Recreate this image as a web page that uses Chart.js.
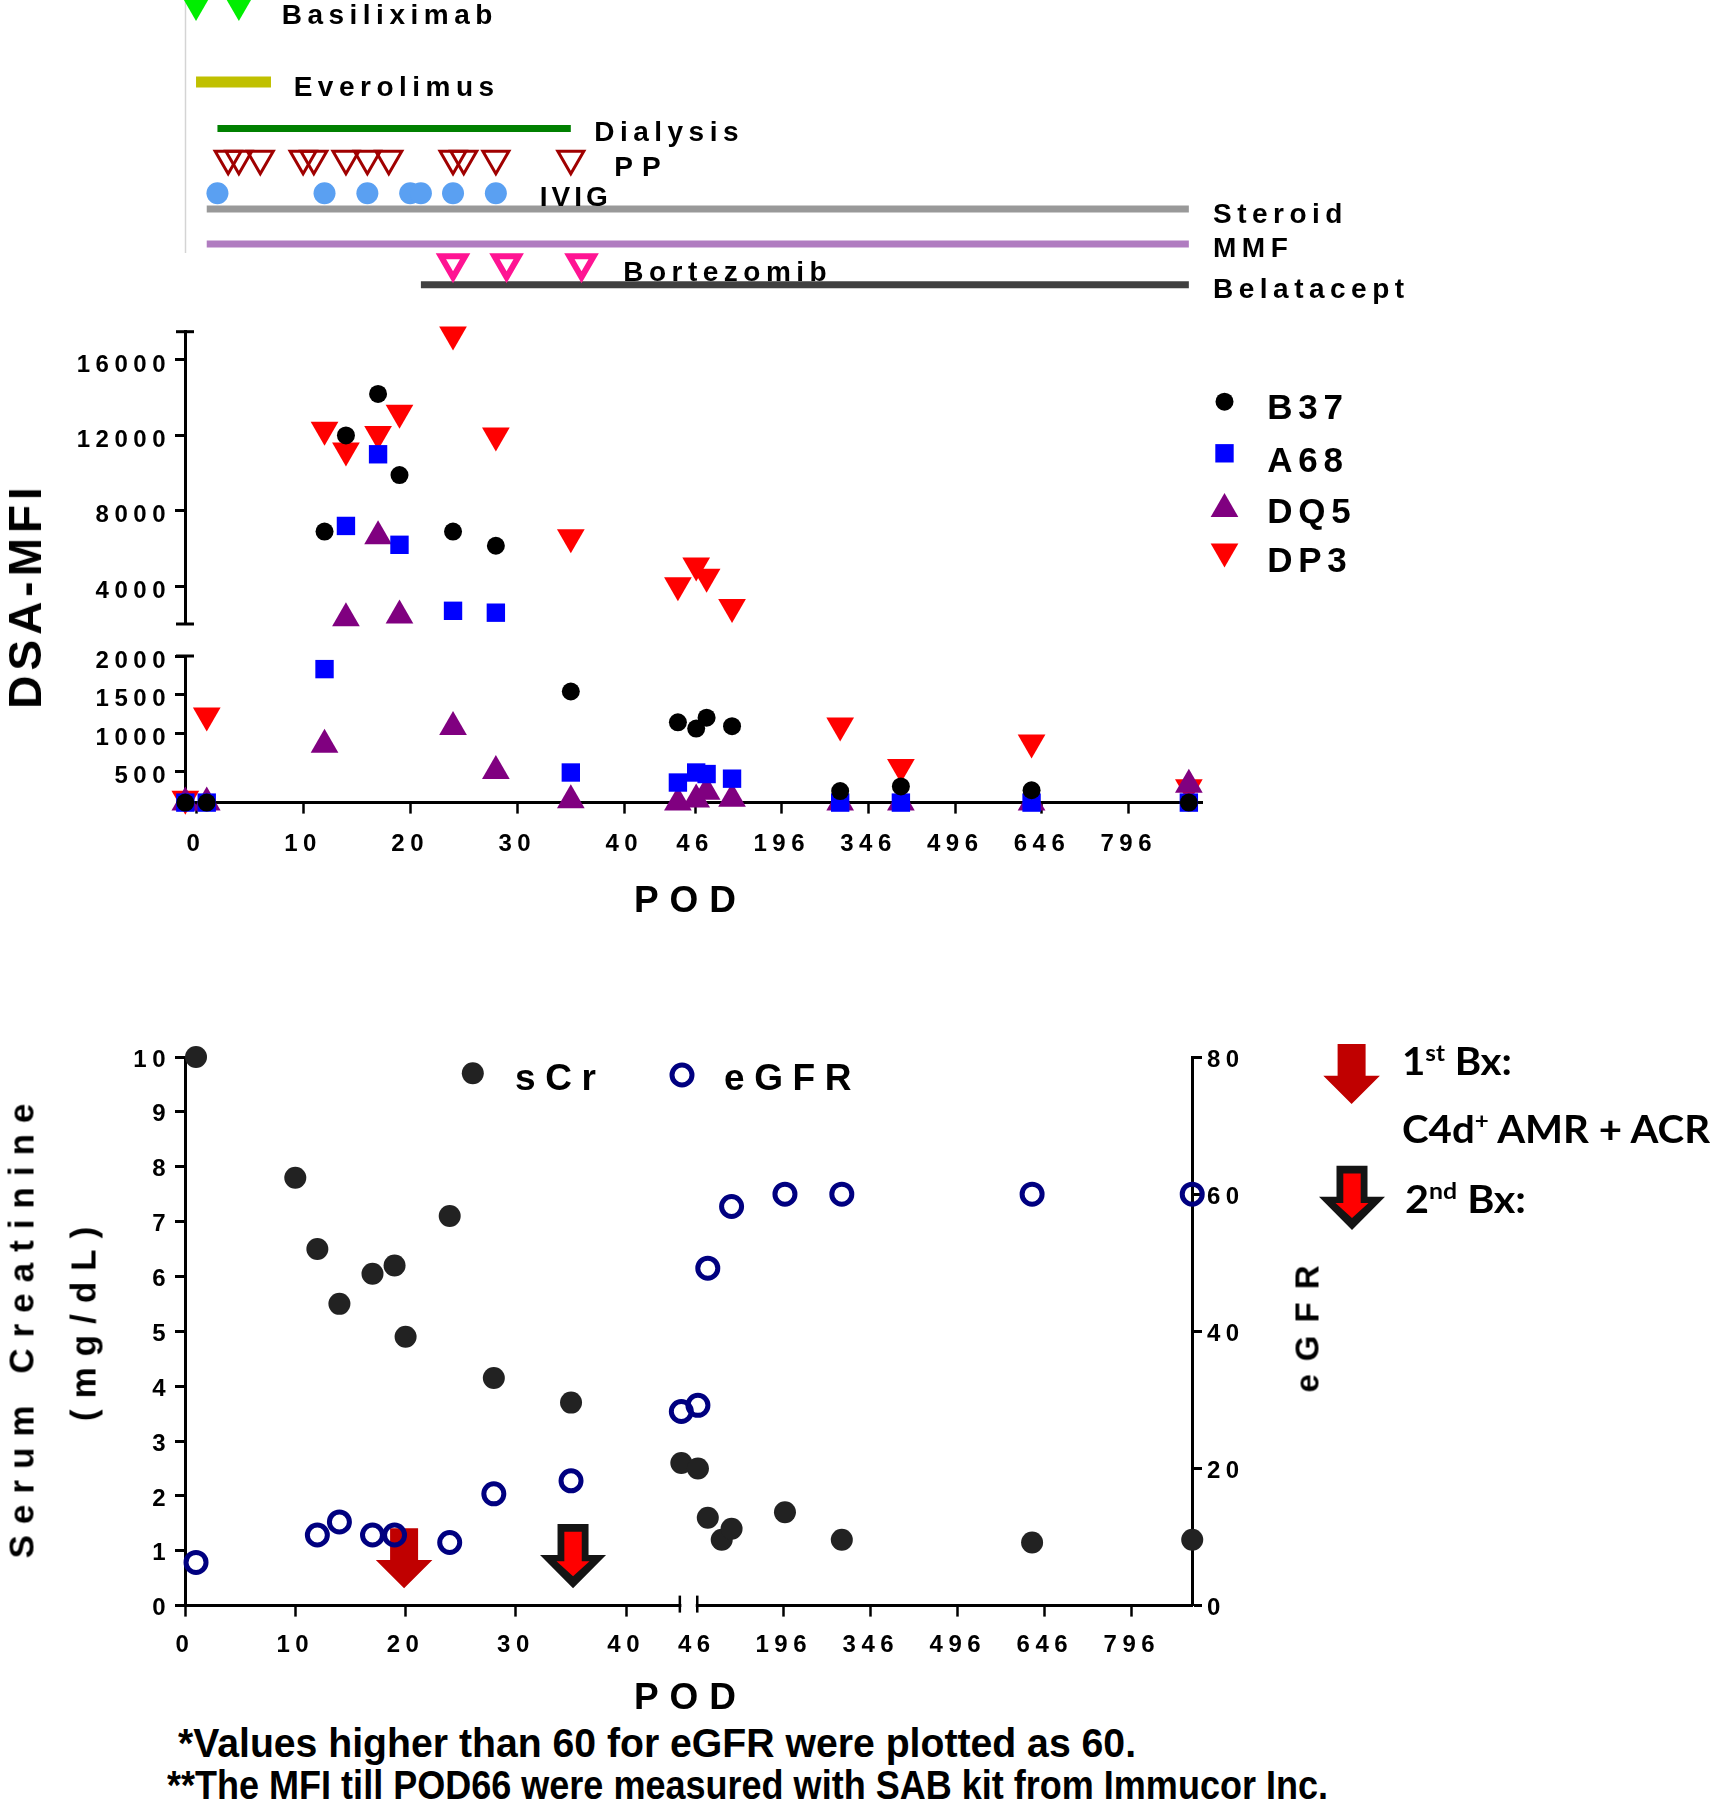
<!DOCTYPE html>
<html>
<head>
<meta charset="utf-8">
<title>DSA-MFI and renal function by POD</title>
<script src="https://cdn.jsdelivr.net/npm/chart.js@4.4.1/dist/chart.umd.min.js"></script>
<style>
  body { margin: 0; background: #fff; }
  #fig { position: relative; width: 1710px; height: 1800px; overflow: hidden; background: #fff; }
  #fig canvas { position: absolute; left: 0; }
  .t { position: absolute; white-space: nowrap; line-height: 1; font-weight: bold; color: #000;
       font-family: "Liberation Sans", Arial, sans-serif; }
  .t sup { font-size: 0.6em; vertical-align: 0.62em; line-height: 0; letter-spacing: 0; }
</style>
</head>
<body>
<div id="fig">
  <canvas id="timeline" width="1710" height="300" style="top:0px"></canvas>
  <canvas id="dsaHigh" width="1710" height="340" style="top:300px"></canvas>
  <canvas id="dsaLow" width="1710" height="260" style="top:640px"></canvas>
  <canvas id="renal" width="1710" height="700" style="top:1000px"></canvas>
</div>
<script>
const FONT = '"Liberation Sans", Arial, sans-serif';

// POD ticks shared by both x axes
const podTicks = [0, 10, 20, 30, 40, 46, 196, 346, 496, 646, 796];

// treatments (POD)
const basiliximab = [0, 4];
const everolimus = [0, 7];
const dialysis = [2, 35];
const plasmapheresis = [3, 4, 6, 10, 11, 14, 16, 18, 24, 25, 28, 35];
const ivig = [2, 12, 16, 20, 21, 24, 28];
const steroid = [1, 900];
const mmf = [1, 900];
const bortezomib = [24, 29, 36];
const belatacept = [21, 900];

// DSA MFI per antibody
const dsaDays = [-1, 1, 12, 14, 17, 19, 24, 28, 35, 45, 48, 66, 110, 297, 402, 628, 900];
const b37 = [100, 100, 6900, 12000, 14200, 9900, 6900, 6150, 1540, 1140, 1060, 1200, 1090, 250, 310, 260, 100];
const a68 = [100, 100, 1830, 7200, 11000, 6200, 2700, 2600, 490, 360, 490, 470, 410, 100, 100, 100, 100];
const dq5 = [100, 100, 850, 2300, 6650, 2450, 1080, 510, 130, 100, 140, 240, 150, 100, 100, 100, 330];
const dp3 = [150, 1230, 12300, 11200, 12070, 13200, 17350, 12000, 6600, 4050, 5100, 4500, 2900, 1100, 560, 880, 300];
const mfiTicksHigh = [4000, 8000, 12000, 16000];
const mfiTicksLow = [500, 1000, 1500, 2000];

// renal function
const scrDays = [1, 10, 12, 14, 17, 19, 20, 24, 28, 35, 45, 48, 65, 89, 106, 198, 296, 624, 900];
const scr = [10.0, 7.8, 6.5, 5.5, 6.05, 6.2, 4.9, 7.1, 4.15, 3.7, 2.6, 2.5, 1.6, 1.2, 1.4, 1.7, 1.2, 1.15, 1.2];
const egfrDays = [1, 12, 14, 17, 19, 24, 28, 35, 45, 48, 65, 106, 198, 296, 624, 900];
const egfr = [6.3, 10.3, 12.2, 10.3, 10.3, 9.2, 16.3, 18.2, 28.3, 29.2, 49.2, 58.2, 60, 60, 60, 60];
const biopsyDays = [20, 35];

// broken POD axis: linear up to 46, compressed after
const topU = d => d < 46 ? d : 46.6 + (d - 46) * 0.054;
const botU = d => d < 46 ? d : 46.4 + (d - 46) * 0.0526;

const common = {
  responsive: false, animation: false, events: [], devicePixelRatio: 1,
  plugins: { legend: { display: false }, tooltip: { enabled: false } }
};
const pad = (left, right, top, bottom) => ({ autoPadding: false, padding: { left, right, top, bottom } });

const spacing = px => ({ id: 'spacing', beforeDraw: c => { c.ctx.letterSpacing = px + 'px'; } });

function drawMarker(ctx, st, x, y) {
  ctx.save();
  ctx.beginPath();
  const r = st.r;
  if (st.shape === 'circle') ctx.arc(x, y, r, 0, Math.PI * 2);
  else if (st.shape === 'rect') { const s = r * Math.SQRT1_2; ctx.rect(x - s, y - s, 2 * s, 2 * s); }
  else {
    let a = (st.rot || 0) * Math.PI / 180;
    for (let k = 0; k < 3; k++) { ctx.lineTo(x + Math.sin(a) * r, y - Math.cos(a) * r); a += Math.PI * 2 / 3; }
    ctx.closePath();
  }
  ctx.fillStyle = st.fill || st.color;
  ctx.fill();
  if (st.bw) { ctx.lineWidth = st.bw; ctx.strokeStyle = st.stroke; ctx.stroke(); }
  ctx.restore();
}

// y tick labels sit a few px under their tick in the original: an empty first line pushes them down
function yTicks(shift, padding, stepSize) {
  return { color: '#000', font: { family: FONT, size: 24, weight: 'bold', lineHeight: (2 * shift) + 'px' },
           padding: padding, stepSize: stepSize, callback: v => ['', String(v)] };
}

function yAxis(extra) {
  return Object.assign({
    type: 'linear',
    border: { display: true, color: '#000', width: 3 },
    grid: { drawOnChartArea: false, drawTicks: true, tickLength: 10, tickWidth: 3, tickColor: '#000' },
    ticks: yTicks(5, 4),
    afterFit: s => { s.width = 185; }
  }, extra);
}

function podAxis(toU, min, max, padding, height, hideIdx) {
  return {
    type: 'linear', min: min, max: max,
    border: { color: '#000', width: 3 },
    grid: { drawOnChartArea: false, drawTicks: true, tickLength: 11, tickWidth: 2.5,
            tickColor: c => c.index === hideIdx ? 'rgba(0,0,0,0)' : '#000' },
    ticks: { color: '#000', font: { family: FONT, size: 24, weight: 'bold' }, padding: padding,
             autoSkip: false, maxRotation: 0, callback: (v, i) => String(podTicks[i]) },
    afterBuildTicks: s => { s.ticks = podTicks.map(d => ({ value: toU(d) })); },
    afterFit: s => { s.height = height; }
  };
}

// ---------- treatment timeline ----------
const rowY = { Basiliximab: 5, Everolimus: 82, Dialysis: 128.5, PP: 158.7, IVIG: 193.3,
               Steroid: 209, MMF: 244, Bortezomib: 263.3, Belatacept: 284.7 };
const atRow = (days, row) => days.map(d => ({ x: topU(d), y: rowY[row] }));
const bar = (days, row, color, width) => ({ data: atRow(days, row), showLine: true, borderColor: color,
  borderWidth: width, borderCapStyle: 'butt', pointRadius: 0, clip: false });
const marks = (days, row, st) => ({ data: atRow(days, row), pointStyle: st.shape, pointRadius: st.r,
  pointRotation: st.rot || 0, pointBackgroundColor: st.fill, pointBorderColor: st.stroke || st.fill,
  pointBorderWidth: st.bw || 0, clip: false });

new Chart(document.getElementById('timeline'), {
  type: 'scatter',
  data: { datasets: [
    marks(basiliximab, 'Basiliximab', { shape: 'triangle', r: 16, rot: 180, fill: '#00ee00' }),
    marks(plasmapheresis, 'PP', { shape: 'triangle', r: 15, rot: 180, fill: 'rgba(0,0,0,0)', stroke: '#a00000', bw: 3 }),
    marks(ivig, 'IVIG', { shape: 'circle', r: 11, fill: '#5aa0f2' }),
    marks(bortezomib, 'Bortezomib', { shape: 'triangle', r: 14, rot: 180, fill: '#ffffff', stroke: '#ff1493', bw: 6 }),
    bar(everolimus, 'Everolimus', '#c0c000', 11),
    bar(dialysis, 'Dialysis', '#008000', 7),
    bar(steroid, 'Steroid', '#999999', 7),
    bar(mmf, 'MMF', '#b07cc0', 7),
    bar(belatacept, 'Belatacept', '#404040', 7)
  ] },
  options: Object.assign({}, common, {
    layout: pad(185, 507.4, 0, 0),
    scales: {
      x: { type: 'linear', display: false, min: -1.03, max: 94 },
      y: { type: 'linear', display: false, reverse: true, min: 0, max: 300 }
    }
  }),
  plugins: [{ id: 'startLine', beforeDatasetsDraw(c) {
    const ctx = c.ctx, x = c.chartArea.left + 0.5;
    ctx.save(); ctx.strokeStyle = '#d4d4d4'; ctx.lineWidth = 1.5;
    ctx.beginPath(); ctx.moveTo(x, 0); ctx.lineTo(x, 253); ctx.stroke(); ctx.restore();
  } }]
});

// ---------- DSA MFI (two y segments) ----------
const dsaSeries = [
  { name: 'B37', values: b37, shape: 'circle', r: 9, color: '#000000' },
  { name: 'A68', values: a68, shape: 'rect', r: 13, color: '#0000ff' },
  { name: 'DQ5', values: dq5, shape: 'triangle', r: 16, color: '#800080' },
  { name: 'DP3', values: dp3, shape: 'triangle', r: 16, rot: 180, color: '#ff0000' }
];
function dsaSet(s, high) {
  const pts = [];
  dsaDays.forEach((d, i) => { if ((s.values[i] > 2000) === high) pts.push({ x: topU(d), y: s.values[i] }); });
  return { label: s.name, data: pts, pointStyle: s.shape, pointRadius: s.r, pointRotation: s.rot || 0,
           pointBackgroundColor: s.color, pointBorderWidth: 0, clip: false };
}
const capPlugin = { id: 'caps', afterDraw(c, args, opts) {
  const ctx = c.ctx, x = c.chartArea.left, ys = c.scales.y;
  ctx.save(); ctx.strokeStyle = '#000'; ctx.lineWidth = 3;
  (opts.values || []).forEach(v => {
    const y = ys.getPixelForValue(v);
    ctx.beginPath(); ctx.moveTo(x - 9, y); ctx.lineTo(x + 9, y); ctx.stroke();
  });
  ctx.restore();
} };
const dsaLegendY = [401.7, 453.3, 509, 551.6];

new Chart(document.getElementById('dsaHigh'), {
  type: 'scatter',
  data: { datasets: dsaSeries.map(s => dsaSet(s, true)) },
  options: Object.assign({}, common, {
    layout: pad(0, 507.4, 31.7, 16),
    plugins: Object.assign({}, common.plugins, { caps: { values: [2000, 17500] } }),
    scales: {
      x: { type: 'linear', display: false, min: -1.03, max: 94 },
      y: yAxis({ min: 2000, max: 17500, afterBuildTicks: s => { s.ticks = mfiTicksHigh.map(v => ({ value: v })); } })
    }
  }),
  plugins: [spacing(5.5), capPlugin, { id: 'dsaLegend', afterDraw(c) {
    dsaSeries.forEach((s, i) => drawMarker(c.ctx, s, 1224.5, dsaLegendY[i] - 300));
  } }]
});

new Chart(document.getElementById('dsaLow'), {
  type: 'scatter',
  data: { datasets: dsaSeries.map(s => dsaSet(s, false)) },
  options: Object.assign({}, common, {
    layout: pad(0, 507.4, 16, 0),
    plugins: Object.assign({}, common.plugins, { caps: { values: [2000] } }),
    scales: {
      x: podAxis(topU, -1.03, 94, 16.5, 97.4, -1),
      y: yAxis({ min: 100, max: 2000, afterBuildTicks: s => { s.ticks = mfiTicksLow.map(v => ({ value: v })); } })
    }
  }),
  plugins: [spacing(5.5), capPlugin]
});

// ---------- serum creatinine / eGFR ----------
function arrow(ctx, cx, tip, hw, headW, h, headH, color) {
  ctx.beginPath();
  ctx.moveTo(cx - hw, tip - h); ctx.lineTo(cx + hw, tip - h); ctx.lineTo(cx + hw, tip - headH);
  ctx.lineTo(cx + headW, tip - headH); ctx.lineTo(cx, tip); ctx.lineTo(cx - headW, tip - headH);
  ctx.lineTo(cx - hw, tip - headH); ctx.closePath();
  ctx.fillStyle = color; ctx.fill();
}
function firstBx(ctx, cx, tip) { arrow(ctx, cx, tip, 14, 28.3, 60, 28.3, '#c00000'); }
function secondBx(ctx, cx, tip) {
  arrow(ctx, cx, tip, 15.5, 33, 64.3, 33.3, '#141414');
  arrow(ctx, cx, tip - 12, 8.7, 16.5, 44.5, 15, '#ff0000');
}
const scrStyle = { shape: 'circle', r: 11, color: '#222222' };
const egfrStyle = { shape: 'circle', r: 10, fill: 'rgba(0,0,0,0)', stroke: '#000080', bw: 5 };

new Chart(document.getElementById('renal'), {
  type: 'scatter',
  data: { datasets: [
    { label: 'eGFR', yAxisID: 'yR', data: egfrDays.map((d, i) => ({ x: botU(d), y: egfr[i] })),
      pointStyle: 'circle', pointRadius: egfrStyle.r, pointBackgroundColor: egfrStyle.fill,
      pointBorderColor: egfrStyle.stroke, pointBorderWidth: egfrStyle.bw, clip: false },
    { label: 'sCr', yAxisID: 'y', data: scrDays.map((d, i) => ({ x: botU(d), y: scr[i] })),
      pointStyle: 'circle', pointRadius: scrStyle.r, pointBackgroundColor: scrStyle.color,
      pointBorderWidth: 0, clip: false }
  ] },
  options: Object.assign({}, common, {
    layout: pad(0, 418, 57, 0),
    scales: {
      x: podAxis(botU, 0, 91.3, 14, 94.4, 5),
      y: yAxis({ min: 0, max: 10, ticks: yTicks(3, 4, 1) }),
      yR: yAxis({ position: 'right', min: 0, max: 80, ticks: yTicks(3, 5, 20),
                  afterFit: s => { s.width = 100; } })
    }
  }),
  plugins: [spacing(5.5), {
    id: 'renalMarks',
    beforeDatasetsDraw(c) {
      const ctx = c.ctx, xs = c.scales.x, tip = c.chartArea.bottom - 17.3;
      ctx.save();
      firstBx(ctx, xs.getPixelForValue(botU(biopsyDays[0])) - 1.5, tip);
      secondBx(ctx, xs.getPixelForValue(botU(biopsyDays[1])) + 2, tip);
      // legend arrows
      firstBx(ctx, 1351.6, 104);
      secondBx(ctx, 1352, 230);
      ctx.restore();
    },
    afterDraw(c) {
      const ctx = c.ctx, xs = c.scales.x, y0 = c.chartArea.bottom;
      const xa = xs.getPixelForValue(botU(45)) - 1.5, xb = xs.getPixelForValue(botU(46)) + 0.5;
      ctx.save();
      ctx.fillStyle = '#fff'; ctx.fillRect(xa + 1.5, y0 - 3, xb - xa - 3, 7);
      ctx.strokeStyle = '#000'; ctx.lineWidth = 2.5;
      [xa, xb].forEach(x => { ctx.beginPath(); ctx.moveTo(x, y0 - 10); ctx.lineTo(x, y0 + 7); ctx.stroke(); });
      ctx.restore();
      drawMarker(ctx, scrStyle, 472.8, 73.3);
      drawMarker(ctx, egfrStyle, 682, 75);
    }
  }]
});

// ---------- text ----------
const fig = document.getElementById('fig');
function text(html, x, y, o) {
  const el = document.createElement('div');
  el.className = 't';
  el.innerHTML = html;
  el.style.fontSize = o.size + 'px';
  if (o.family) el.style.fontFamily = o.family;
  if (o.sp) el.style.letterSpacing = o.sp + 'px';
  fig.appendChild(el);
  el.style.left = x + 'px';
  if (o.rot || o.center) {
    if (o.sp) el.style.paddingLeft = o.sp + 'px';
    el.style.top = y + 'px';
    el.style.transform = 'translate(-50%, -50%)' + (o.rot ? ' rotate(-90deg)' : '');
  } else if (o.base) {
    el.style.top = (y - o.base * o.size) + 'px';
  } else {
    el.style.top = (y - 0.49 * o.size) + 'px';
  }
  if (o.width) {
    const w = el.getBoundingClientRect().width;
    el.style.transformOrigin = '0 0';
    el.style.transform = 'scaleX(' + (o.width / w).toFixed(4) + ')';
  }
  return el;
}

// timeline labels
const tl = { size: 28, sp: 5.5 };
text('Basiliximab', 281.7, 15, tl);
text('Everolimus', 293.7, 86.7, tl);
text('Dialysis', 594.2, 131.7, tl);
text('PP', 614.3, 166.7, { size: 28, sp: 9 });
text('IVIG', 539.7, 196.7, { size: 28, sp: 4 });
text('Steroid', 1213, 213.5, tl);
text('MMF', 1213, 248, tl);
text('Bortezomib', 623.2, 272, tl);
text('Belatacept', 1213, 289, tl);

// DSA chart
text('DSA-MFI', 25, 598, { size: 46, sp: 5, rot: true });
text('POD', 685, 898.6, { size: 37, sp: 11, center: true });
const legendTextY = [405.8, 459, 510, 559.5];
dsaSeries.forEach((s, i) => text(s.name, 1267.3, legendTextY[i], { size: 35, sp: 5.7 }));

// renal chart
text('Serum Creatinine', 21, 1331, { size: 35, sp: 11, rot: true });
text('(mg/dL)', 83, 1323.5, { size: 35, sp: 11, rot: true });
text('eGFR', 1307, 1329, { size: 33, sp: 13, rot: true });
text('POD', 685, 1696.3, { size: 37, sp: 11, center: true });
text('sCr', 515, 1077, { size: 37, sp: 9.6 });
text('eGFR', 724, 1077, { size: 37, sp: 9.6 });

const LATO = 'Lato, "Open Sans", sans-serif';
text('1<sup>st</sup> Bx:', 1401.8, 1075, { size: 38, family: LATO, base: 0.887, width: 110 });
text('C4d<sup>+</sup> AMR + ACR', 1401.8, 1143, { size: 38, family: LATO, base: 0.887, width: 308 });
text('2<sup>nd</sup> Bx:', 1405, 1213, { size: 38, family: LATO, base: 0.887, width: 121 });

const NARROW = '"Liberation Sans Narrow", "Liberation Sans", Arial, sans-serif';
text('*Values higher than 60 for eGFR were plotted as 60.', 178, 1757, { size: 40, family: NARROW, base: 0.8465, width: 958 });
text('**The MFI till POD66 were measured with SAB kit from Immucor Inc.', 166.5, 1799, { size: 40, family: NARROW, base: 0.8465, width: 1161 });
</script>
</body>
</html>
